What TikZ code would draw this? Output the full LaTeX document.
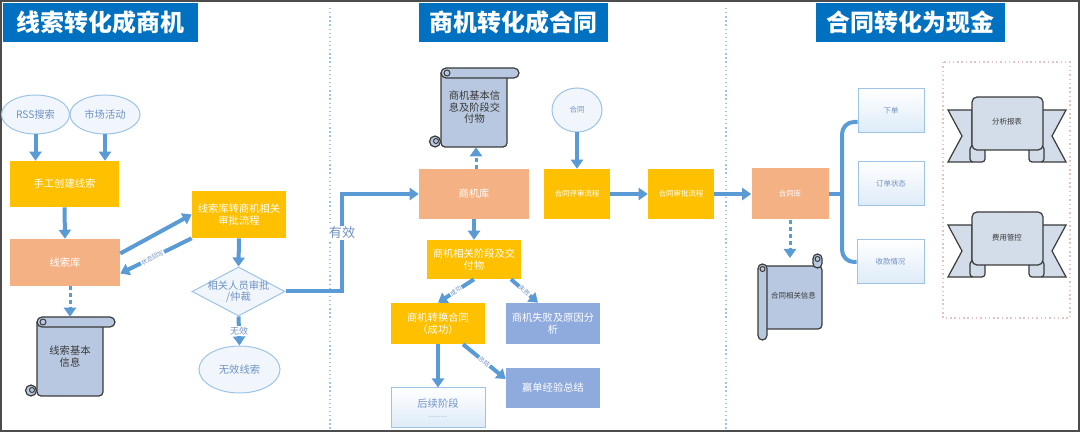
\documentclass[tikz,border=0pt]{standalone}
\usepackage{fontspec}
\setmainfont{Noto Sans CJK SC}
\usetikzlibrary{arrows.meta,shapes.geometric}

\definecolor{titleblue}{HTML}{0070C0}
\definecolor{flowblue}{HTML}{5B9BD5}
\definecolor{gold}{HTML}{FFC000}
\definecolor{salmon}{HTML}{F4B183}
\definecolor{steel}{HTML}{8FAADC}
\definecolor{paper}{HTML}{B8C8E0}
\definecolor{ribbonfill}{HTML}{D3DCE9}
\definecolor{paleblue}{HTML}{DDEBF7}
\definecolor{edgeblue}{HTML}{9DC3E6}
\definecolor{softtext}{HTML}{7092C4}
\definecolor{inkgray}{HTML}{3A3A3A}
\definecolor{pinkgray}{HTML}{E3C4C4}

\newlength{\pxl}\setlength{\pxl}{0.025cm}
\newcommand\ttlfnt{\fontsize{17}{20}\selectfont\bfseries}
\newcommand\boxfnt{\fontsize{7.3}{9}\selectfont}
\newcommand\smlfnt{\fontsize{5.3}{7}\selectfont}
\newcommand\tnyfnt{\fontsize{4.3}{5}\selectfont}

\tikzset{
  title/.style={fill=titleblue, text=white, font=\ttlfnt, inner sep=0, minimum height=39\pxl},
  yellowbox/.style={fill=gold, text=white, font=\boxfnt, align=center, inner sep=0},
  salmonbox/.style={fill=salmon, text=white, font=\boxfnt, align=center, inner sep=0},
  steelbox/.style={fill=steel, text=white, font=\boxfnt, align=center, inner sep=0},
  palebox/.style={draw=edgeblue, line width=1\pxl, top color=white, bottom color=paleblue,
    text=softtext, font=\smlfnt, align=center, inner sep=0},
  bubble/.style={ellipse, draw=edgeblue, line width=1\pxl, fill=paleblue!45, text=softtext,
    font=\boxfnt, inner sep=0},
  decision/.style={diamond, draw=edgeblue, line width=1\pxl, fill=paleblue!45, inner sep=0},
  papertext/.style={text=inkgray, font=\boxfnt, align=center, inner sep=0},
  flow/.style={draw=flowblue, line width=4\pxl, -{Triangle[width=0.3cm,length=0.225cm]}},
  infoflow/.style={flow, line width=3\pxl, dash pattern=on 4\pxl off 3\pxl},
  link/.style={draw=flowblue, line width=4\pxl},
  lab/.style={fill=white, text=softtext, font=\tnyfnt, inner sep=0.5pt, sloped},
  paperline/.style={draw=inkgray, fill=paper, line width=1.2\pxl},
  ribbonline/.style={draw=inkgray, fill=ribbonfill, line width=1.2\pxl},
  divider/.style={draw=edgeblue, dotted, line width=1.3\pxl}
}

\begin{document}
\begin{tikzpicture}[x=0.025cm, y=-0.025cm]
\useasboundingbox (0,0) rectangle (1080,432);

% ---------------- frame and section dividers
  \draw[gray!60!black, line width=2\pxl] (1,1) rectangle (1079,431);
  \draw[divider] (330,8) -- (330,431);
  \draw[divider] (726,8) -- (726,431);

% ---------------- section titles
  \node[title, minimum width=195\pxl] (t1) at (100.5,22.5) {线索转化成商机};
  \node[title, minimum width=189\pxl] (t2) at (513.5,22.5) {商机转化成合同};
  \node[title, minimum width=189\pxl] (t3) at (910.5,22.5) {合同转化为现金};

% ---------------- scrolls (drawn shapes, text nodes on top)
  \foreach \sx/\sy in {37/317,441/68}{
    \begin{scope}[shift={(\sx,\sy)}]
      \filldraw[paperline, rounded corners=4\pxl] (0,5) -- (0,79) -- (66,79) -- (66,5);
      \filldraw[paperline, rounded corners=5\pxl] (0,0) rectangle (78,10);
      \draw[inkgray, line width=1\pxl] (6,5) circle [radius=3\pxl];
      \filldraw[paperline] (-6,73.5) circle [radius=5.5\pxl];
      \draw[inkgray, line width=1\pxl] (-5,73) circle [radius=2.5\pxl];
    \end{scope}
  }
  \begin{scope}[shift={(758,254)}]
    \filldraw[paperline, rounded corners=4\pxl] (5,12) -- (64,12) -- (64,75) -- (5,75);
    \filldraw[paperline, rounded corners=4.5\pxl] (55,0) rectangle (64,14);
    \draw[inkgray, line width=1\pxl] (59.5,5) circle [radius=2.5\pxl];
    \filldraw[paperline, rounded corners=4.5\pxl] (0,10) rectangle (9,86);
    \draw[inkgray, line width=1\pxl] (4.5,15) circle [radius=2.5\pxl];
  \end{scope}

% ---------------- ribbons in the dotted frame
  \draw[pinkgray, dotted, line width=1.5\pxl] (943,62) rectangle (1070,318);
  \foreach \ry in {122,237}{
    \begin{scope}[shift={(1007,\ry)}]
      \foreach \s in {1,-1}{
        \begin{scope}[xscale=\s]
          \filldraw[ribbonline] (-59,-12) -- (-35,-12) -- (-35,40) -- (-59,40) -- (-45,14) -- cycle;
          \filldraw[ribbonline, rounded corners=3\pxl] (-37,24) rectangle (-22,40);
        \end{scope}
      }
      \filldraw[ribbonline, rounded corners=5\pxl] (-35,28) -- (-35,-25) -- (36,-25) -- (36,28) -- cycle;
    \end{scope}
  }
  \node[papertext, font=\smlfnt] (report) at (1007,122) {分析报表};
  \node[papertext, font=\smlfnt] (cost) at (1007,238) {费用管控};

% ---------------- leads -> opportunities
  \node[bubble, minimum width=68\pxl, minimum height=39\pxl] (rss) at (35.5,114.5) {RSS搜索};
  \node[bubble, minimum width=70\pxl, minimum height=39\pxl] (mkt) at (105,114.5) {市场活动};
  \node[yellowbox, minimum width=109\pxl, minimum height=46\pxl] (manual) at (64.5,184) {手工创建线索};
  \node[salmonbox, minimum width=110\pxl, minimum height=47\pxl] (xsk) at (65,262.5) {线索库};
  \node[papertext, minimum width=66\pxl, minimum height=79\pxl] (xinfo) at (70,356.5) {线索基本\\信息};
  \node[yellowbox, minimum width=94\pxl, minimum height=47\pxl,
    font=\fontsize{7.3}{8.6}\selectfont] (appr) at (239,214.5) {线索库转商机相关\\审批流程};
  \node[decision, minimum width=93\pxl, minimum height=49\pxl,
    label={[align=center, text=softtext, font=\fontsize{7.3}{8}\selectfont]center:{相关人员审批\\/仲裁}}]
    (judge) at (238.5,291.5) {};
  \node[bubble, minimum width=81\pxl, minimum height=47\pxl] (inval) at (239.5,369.5) {无效线索};
  \coordinate (turn) at (342,291.5);

  \draw[flow] (rss.south) -- (rss.south |- manual.north);
  \draw[flow] (mkt.south) -- (mkt.south |- manual.north);
  \draw[flow] (manual.south) -- (xsk.north);
  \draw[infoflow] ([xshift=5\pxl]xsk.south) -- ([xshift=5\pxl]xsk.south |- xinfo.north);
  \draw[flow] ([yshift=9\pxl]xsk.east) -- (appr.west);
  \draw[flow] (appr.south west) -- ([yshift=-11\pxl]xsk.east)
    node[lab, pos=0.55] {状态回写};
  \draw[flow] (appr.south) -- (judge.north);
  \draw[flow] (judge.south) -- (inval.north)
    node[lab, sloped=false, font=\fontsize{6.4}{7}\selectfont, midway] {无效};

% ---------------- opportunities -> contracts
  \node[salmonbox, minimum width=110\pxl, minimum height=50\pxl] (oppo) at (474,194) {商机库};
  \node[papertext, minimum width=66\pxl, minimum height=79\pxl,
    font=\fontsize{7.3}{8.2}\selectfont] (oinfo) at (474.5,107.5) {商机基本信\\息及阶段交\\付物};
  \node[yellowbox, minimum width=94\pxl, minimum height=39\pxl] (stage) at (474,259.5) {商机相关阶段及交\\付物};
  \node[yellowbox, minimum width=94\pxl, minimum height=41\pxl] (won) at (438,323.5) {商机转换合同\\（成功）};
  \node[steelbox, minimum width=94\pxl, minimum height=41\pxl] (lost) at (553,323.5) {商机失败及原因分\\析};
  \node[palebox, font=\boxfnt, minimum width=94\pxl, minimum height=40\pxl] (next) at (438,408)
    {后续阶段\\[-2pt]{\tnyfnt ...........}};
  \node[steelbox, minimum width=94\pxl, minimum height=40\pxl] (lesson) at (553,388) {赢单经验总结};
  \node[bubble, font=\smlfnt, minimum width=50\pxl, minimum height=44\pxl] (ht) at (577,110) {合同};
  \node[yellowbox, font=\smlfnt, minimum width=66\pxl, minimum height=50\pxl] (review) at (577,194) {合同评审流程};
  \node[yellowbox, font=\smlfnt, minimum width=66\pxl, minimum height=50\pxl] (approve) at (681,194) {合同审批流程};

  \draw[flow] (judge.east) -- (turn) |- (oppo.west)
    node[lab, sloped=false, font=\fontsize{9.3}{10}\selectfont, pos=0.3] {有效};
  \draw[infoflow] ([xshift=2\pxl]oppo.north) -- ([xshift=2\pxl]oppo.north |- oinfo.south);
  \draw[flow] (oppo.south) -- (stage.north);
  \draw[flow] (stage.south) -- (won.north) node[lab, midway] {成功};
  \draw[flow] ([xshift=37\pxl]stage.south) -- ([xshift=-15\pxl]lost.north) node[lab, midway] {失败};
  \draw[flow] (won.south) -- (next.north);
  \draw[flow] ([xshift=25\pxl]won.south) -- ([yshift=9\pxl]lesson.west) node[lab, midway] {总结};
  \draw[flow] (ht.south) -- (review.north);
  \draw[flow] (review.east) -- (approve.west);

% ---------------- contracts -> cash
  \node[salmonbox, font=\smlfnt, minimum width=77\pxl, minimum height=51\pxl] (clib) at (790,194) {合同库};
  \node[papertext, font=\smlfnt, minimum width=57\pxl, minimum height=66\pxl] (cinfo) at (793.5,296) {合同相关信息};
  \node[palebox, minimum width=66\pxl, minimum height=44\pxl] (order) at (891,111) {下单};
  \node[palebox, minimum width=66\pxl, minimum height=44\pxl] (ostate) at (891,184) {订单状态};
  \node[palebox, minimum width=67\pxl, minimum height=44\pxl] (pay) at (890.5,262) {收款情况};
  \coordinate (brk) at (842,194);

  \draw[flow] (approve.east) -- (clib.west);
  \draw[infoflow] (clib.south) -- (clib.south |- 0,258);
  \draw[link] (clib.east) -- (brk);
  \draw[link, rounded corners=12\pxl] ([yshift=-11\pxl]order.west) -| (brk) |- (pay.west);
\end{tikzpicture}
\end{document}
